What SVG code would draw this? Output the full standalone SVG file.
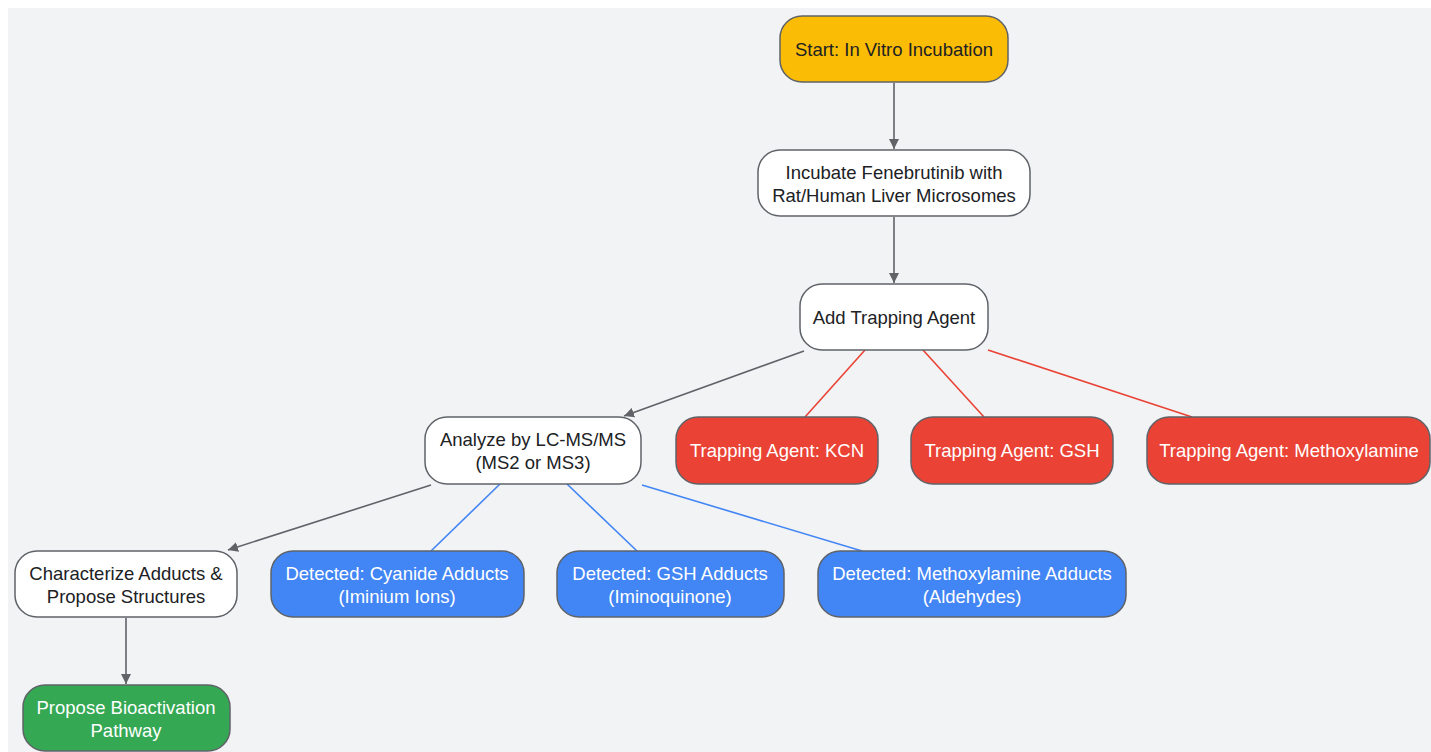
<svg xmlns="http://www.w3.org/2000/svg" width="1431" height="752" viewBox="0 0 1431 752">
<style>
.n{stroke:#5f6368;stroke-width:1.5}
.w{fill:#ffffff}.y{fill:#fbbc05}.r{fill:#ea4335}.b{fill:#4285f4}.g{fill:#34a853}
text{font-family:"Liberation Sans",Arial,sans-serif;font-size:18.5px;text-anchor:middle;dominant-baseline:central}
.dt{fill:#202124}.lt{fill:#ffffff}
.e{fill:none;stroke-width:1.6}
.eg{stroke:#5f6368}.er{stroke:#ea4335}.eb{stroke:#4285f4}
</style>
<defs>
<marker id="ah" viewBox="0 0 10 10" refX="10" refY="5" markerWidth="10" markerHeight="10" markerUnits="userSpaceOnUse" orient="auto">
<path d="M0,0 L10,5 L0,10 z" fill="#5f6368"/>
</marker>
</defs>
<rect x="0" y="0" width="1431" height="752" fill="#ffffff"/>
<rect x="8" y="8" width="1423" height="744" fill="#f1f3f5"/>
<g id="connectors">
<line class="e eg" x1="894" y1="83" x2="894" y2="149" marker-end="url(#ah)"/>
<line class="e eg" x1="894" y1="217" x2="894" y2="283" marker-end="url(#ah)"/>
<line class="e eg" x1="804" y1="351" x2="624" y2="416" marker-end="url(#ah)"/>
<line class="e er" x1="865" y1="350" x2="805" y2="417"/>
<line class="e er" x1="923" y1="350" x2="984" y2="417"/>
<line class="e er" x1="988" y1="350" x2="1192" y2="417"/>
<line class="e eg" x1="431" y1="485" x2="228" y2="550" marker-end="url(#ah)"/>
<line class="e eb" x1="500" y1="484" x2="431" y2="551"/>
<line class="e eb" x1="567" y1="484" x2="637" y2="551"/>
<line class="e eb" x1="642" y1="485" x2="862" y2="551"/>
<line class="e eg" x1="126" y1="618" x2="126" y2="684" marker-end="url(#ah)"/>
</g>
<g id="start"><rect class="n y" x="780" y="16" width="228" height="66" rx="22"/><text class="dt" x="894" y="49">Start: In Vitro Incubation</text></g>
<g id="incubate"><rect class="n w" x="758" y="150" width="272" height="66" rx="22"/><text class="dt" x="894" y="172">Incubate Fenebrutinib with</text><text class="dt" x="894" y="195">Rat/Human Liver Microsomes</text></g>
<g id="add"><rect class="n w" x="800" y="284" width="188" height="66" rx="22"/><text class="dt" x="894" y="317">Add Trapping Agent</text></g>
<g id="analyze"><rect class="n w" x="425" y="417" width="216" height="67" rx="22"/><text class="dt" x="533" y="439">Analyze by LC-MS/MS</text><text class="dt" x="533" y="462">(MS2 or MS3)</text></g>
<g id="kcn"><rect class="n r" x="676" y="417" width="202" height="67" rx="22"/><text class="lt" x="777" y="450">Trapping Agent: KCN</text></g>
<g id="gsh"><rect class="n r" x="911" y="417" width="202" height="67" rx="22"/><text class="lt" x="1012" y="450">Trapping Agent: GSH</text></g>
<g id="methox"><rect class="n r" x="1147" y="417" width="283" height="67" rx="22"/><text class="lt" x="1289" y="450">Trapping Agent: Methoxylamine</text></g>
<g id="characterize"><rect class="n w" x="15" y="551" width="222" height="66" rx="22"/><text class="dt" x="126" y="573">Characterize Adducts &amp;</text><text class="dt" x="126" y="596">Propose Structures</text></g>
<g id="cyanide"><rect class="n b" x="271" y="551" width="253" height="66" rx="22"/><text class="lt" x="397" y="573">Detected: Cyanide Adducts</text><text class="lt" x="397" y="596">(Iminium Ions)</text></g>
<g id="gshadd"><rect class="n b" x="557" y="551" width="227" height="66" rx="22"/><text class="lt" x="670" y="573">Detected: GSH Adducts</text><text class="lt" x="670" y="596">(Iminoquinone)</text></g>
<g id="methoxadd"><rect class="n b" x="818" y="551" width="308" height="66" rx="22"/><text class="lt" x="972" y="573">Detected: Methoxylamine Adducts</text><text class="lt" x="972" y="596">(Aldehydes)</text></g>
<g id="propose"><rect class="n g" x="23" y="685" width="207" height="66" rx="22"/><text class="lt" x="126" y="707">Propose Bioactivation</text><text class="lt" x="126" y="730">Pathway</text></g>
</svg>
